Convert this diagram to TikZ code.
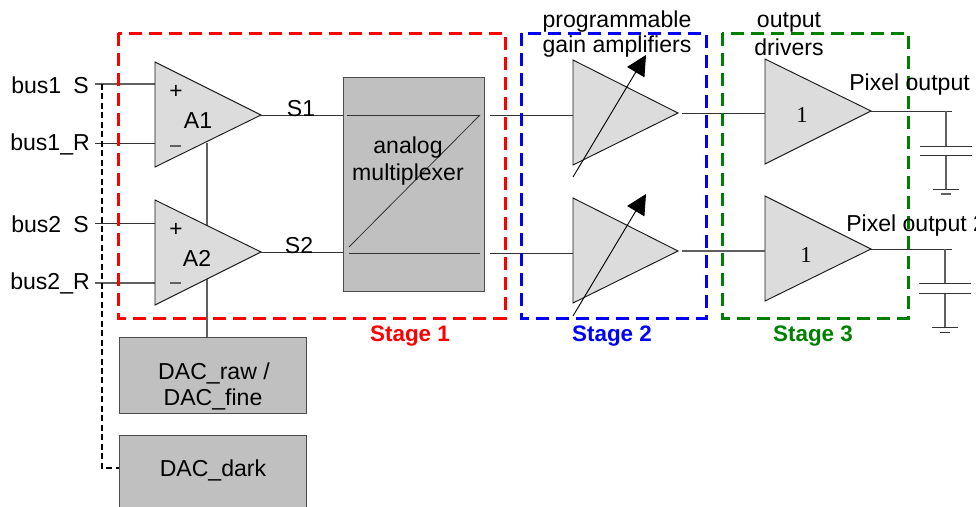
\documentclass[tikz,border=0pt]{standalone}
\usepackage{fontspec}
\setmainfont{Liberation Sans}
\newfontfamily\serifone{Liberation Serif}
\usetikzlibrary{arrows.meta}
\definecolor{trifill}{HTML}{DCDCDC}
\definecolor{boxfill}{HTML}{C0C0C0}
\definecolor{wiregray}{HTML}{606060}
\definecolor{stagegreen}{HTML}{008000}
\tikzset{
  x=0.75pt,y=-0.75pt,
  wire/.style={draw=black!80,line width=0.75pt},
  stub/.style={draw=wiregray,line width=0.85pt},
  tri/.style={draw=black!90,fill=trifill,line width=0.7pt,line join=miter},
  stagebox/.style={line width=2.25pt,dash pattern=on 10pt off 5pt},
  lab/.style={font=\fontsize{17.3pt}{20pt}\selectfont,inner sep=0pt,text=black,align=center},
  stagelab/.style={font=\fontsize{16.8pt}{20pt}\selectfont\bfseries,inner sep=0pt},
  blk/.style={draw=black!70,fill=boxfill,line width=0.9pt,inner sep=0pt,anchor=north west},
  adj/.style={draw=black,line width=0.7pt,-{Triangle[length=15pt,width=15pt]}},
  sym/.style={font=\fontsize{17pt}{20pt}\selectfont,inner sep=0pt},
}
\begin{document}
\begin{tikzpicture}
\useasboundingbox (0,0) rectangle (976,507);
\clip (0,0) rectangle (976,507);
% coordinates
\coordinate (a1t) at (155,62); \coordinate (a1b) at (155,167); \coordinate (a1o) at (261,115);
\coordinate (a2t) at (155,200); \coordinate (a2b) at (155,305); \coordinate (a2o) at (261,252);
\coordinate (p1t) at (573,60); \coordinate (p1b) at (573,165); \coordinate (p1o) at (678,113);
\coordinate (p2t) at (573,198); \coordinate (p2b) at (573,303); \coordinate (p2o) at (678,251);
\coordinate (d1t) at (765,59); \coordinate (d1b) at (765,164); \coordinate (d1o) at (871,111);
\coordinate (d2t) at (765,196); \coordinate (d2b) at (765,301); \coordinate (d2o) at (871,249);
% blocks
\node[blk,minimum width=141*0.75pt,minimum height=214*0.75pt] (mux) at (343,77) {};
\node[blk,minimum width=187*0.75pt,minimum height=76*0.75pt] (dacraw) at (119,337) {};
\node[blk,minimum width=187*0.75pt,minimum height=84*0.75pt] (dacdark) at (119,435) {};
% vertical DAC feed behind amplifiers
\coordinate (fbtop) at (207,143);
\draw[stub] (fbtop) -- (dacraw.north -| fbtop);
% input labels
\node[lab,anchor=west] (b1s) at (11,85) {bus1\hspace{0.25em} S};
\node[lab,anchor=west] (b1r) at (10,144) {bus1\_R};
\node[lab,anchor=west] (b2s) at (11,224) {bus2\hspace{0.25em} S};
\node[lab,anchor=west] (b2r) at (10,283) {bus2\_R};
% input wire ends
\coordinate (i1s) at (95,84); \coordinate (i1r) at (95,143);
\coordinate (i2s) at (95,223); \coordinate (i2r) at (95,283);
\draw[stub] (i1s) -- (i1s -| a1t);
\draw[wire] (i1r) -- (i1r -| a1t);
\draw[wire] (i2s) -- (i2s -| a2t);
\draw[stub] (i2r) -- (i2r -| a2t);
% dashed line
\coordinate (dtop) at (102,84); \coordinate (dcorner) at (102,468);
\draw[black,line width=0.8pt,dash pattern=on 4.5pt off 2.6pt] (dtop) -- (dcorner) -- (dcorner -| dacdark.west);
% triangles
\draw[tri] (a1t) -- (a1o) -- (a1b) -- cycle;
\draw[tri] (a2t) -- (a2o) -- (a2b) -- cycle;
\draw[tri] (p1t) -- (p1o) -- (p1b) -- cycle;
\draw[tri] (p2t) -- (p2o) -- (p2b) -- cycle;
\draw[tri] (d1t) -- (d1o) -- (d1b) -- cycle;
\draw[tri] (d2t) -- (d2o) -- (d2b) -- cycle;
% amp marks
\node[sym] (plus1) at (176,92) {+};
\node[sym] (plus2) at (176,230) {+};
\draw[stub] (170,146) -- (181,146);
\draw[stub] (170,283) -- (181,283);
\node[lab] (A1) at (198,121) {A1};
\node[lab] (A2) at (197,258) {A2};
% outputs to mux
\draw[wire] (a1o) -- (a1o -| mux.west);
\draw[wire] (a2o) -- (a2o -| mux.west);
\node[lab] (S1) at (301,109) {S1};
\node[lab] (S2) at (299,246) {S2};
% mux inner
\coordinate (m1a) at (347,115); \coordinate (m1b) at (480,115);
\coordinate (m2a) at (349,253); \coordinate (m2b) at (480,253);
\coordinate (mda) at (349,247);
\draw[wire] (m1a) -- (m1b);
\draw[wire] (m2a) -- (m2b);
\draw[wire,line width=0.6pt] (mda) -- (m1b);
\node[lab] (muxlab) at (408,161) {analog\\multiplexer};
% mux to PGA
\coordinate (mo1) at (490,115); \coordinate (mo2) at (490,253);
\draw[wire] (mo1) -- (mo1 -| p1t);
\draw[wire] (mo2) -- (mo2 -| p2t);
% adjust arrows
\coordinate (g1s) at (573,177); \coordinate (g1e) at (646,55);
\coordinate (g2s) at (573,316); \coordinate (g2e) at (646,194);
\draw[adj] (g1s) -- (g1e);
\draw[adj] (g2s) -- (g2e);
% PGA to drivers
\coordinate (po1) at (682,113); \coordinate (po2) at (682,251);
\draw[wire] (po1) -- (po1 -| d1t);
\draw[stub] (po2) -- (po2 -| d2t);
\node[font=\serifone\fontsize{17pt}{20pt}\selectfont,inner sep=0pt] (one1) at (802,115) {1};
\node[font=\serifone\fontsize{17pt}{20pt}\selectfont,inner sep=0pt] (one2) at (806,255) {1};
% stage boxes
\draw[stagebox,red] (118,33) rectangle (505,318);
\draw[stagebox,blue] (521,33) rectangle (706,318);
\draw[stagebox,stagegreen] (722,33) rectangle (908,318);
\node[stagelab,text=red] (st1) at (410,336) {Stage 1};
\node[stagelab,text=blue] (st2) at (612,336) {Stage 2};
\node[stagelab,text=stagegreen] (st3) at (813,336) {Stage 3};
% top labels
\node[lab] (pg1) at (617,22) {programmable};
\node[lab] (pg2) at (617,47) {gain amplifiers};
\node[lab] (od1) at (789,22) {output};
\node[lab] (od2) at (789,47) {drivers};
% driver outputs and load caps
\coordinate (oe1) at (952,111); \coordinate (oe2) at (952,249);
\draw[wire] (d1o) -- (oe1);
\draw[wire] (d2o) -- (oe2);
\node[lab,anchor=west] (px1) at (849,85) {Pixel output};
\node[lab,anchor=west] (px2) at (846,226) {Pixel output 2};
\coordinate (c1a) at (946,146); \coordinate (c1b) at (946,155); \coordinate (c1g) at (946,189);
\coordinate (c2a) at (945,283); \coordinate (c2b) at (945,293); \coordinate (c2g) at (945,327);
\draw[stub] (946,111) -- (c1a);
\draw[stub] (c1b) -- (c1g);
\draw[stub] (945,249) -- (c2a);
\draw[stub] (c2b) -- (c2g);
\draw[wire] (920,146) -- (972,146);
\draw[wire] (920,155) -- (972,155);
\draw[wire] (919,283) -- (971,283);
\draw[wire] (919,293) -- (971,293);
\draw[wire] (933,189) -- (959,189);
\draw[stub] (941,194) -- (951,194);
\draw[wire] (932,327) -- (958,327);
\draw[wire] (940,332) -- (950,332);
% block labels
\node[lab] (rawlab) at (214,373) {DAC\_raw /};
\node[lab] (finelab) at (213,399) {DAC\_fine};
\node[lab] (darklab) at (213,470) {DAC\_dark};
\end{tikzpicture}
\end{document}
